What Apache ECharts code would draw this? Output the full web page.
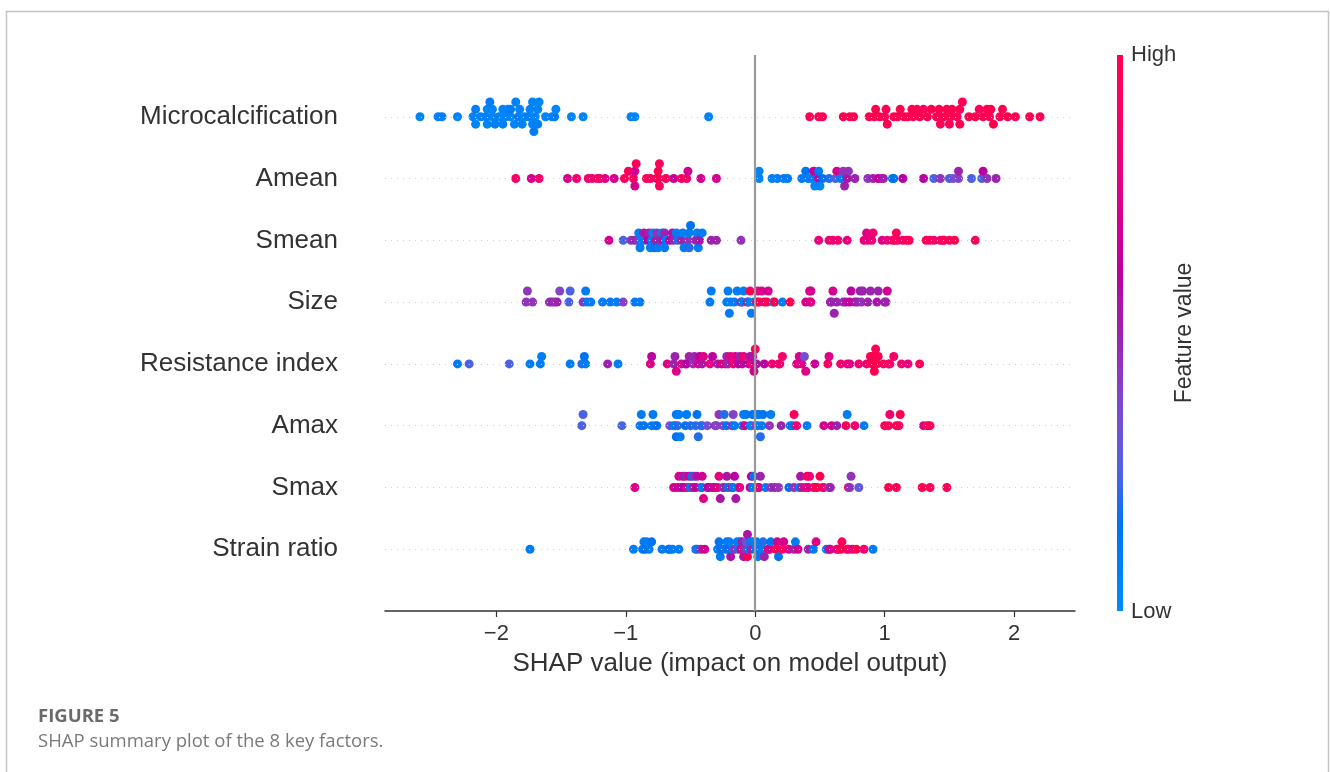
<!DOCTYPE html>
<html>
<head>
<meta charset="utf-8">
<script src="https://cdn.jsdelivr.net/npm/echarts@6/dist/echarts.min.js"></script>
<style>
html,body{margin:0;padding:0;background:#fff;}
#chart{width:1330px;height:772px;}
</style>
</head>
<body>
<div id="chart"></div>
<script>
// ---------- DATA (SHAP value, normalised feature value 0=low..1=high) ----------
const features = ['Microcalcification','Amean','Smean','Size','Resistance index','Amax','Smax','Strain ratio'];
const xTicks = [-2, -1, 0, 1, 2];
const colorbarLabels = ['High', 'Low'];
const colorbarTitle = 'Feature value';
const xAxisTitle = 'SHAP value (impact on model output)';
const captionTitle = 'FIGURE 5';
const captionText = 'SHAP summary plot of the 8 key factors.';

const microcalcification = [
 [-2.59,0.05],[-2.45,0.05],[-2.42,0.08],[-2.30,0.05],[-2.18,0.05],[-2.16,0.08],[-2.16,0.05],[-2.12,0.05],[-2.08,0.08],[-2.07,0.05],
 [-2.07,0.05],[-2.05,0.1],[-2.03,0.05],[-2.03,0.05],[-2.01,0.08],[-1.98,0.05],[-1.95,0.05],[-1.95,0.08],[-1.93,0.05],[-1.91,0.05],
 [-1.89,0.05],[-1.89,0.1],[-1.86,0.05],[-1.85,0.05],[-1.83,0.08],[-1.82,0.05],[-1.80,0.05],[-1.78,0.05],[-1.75,0.08],[-1.74,0.05],
 [-1.72,0.05],[-1.72,0.05],[-1.71,0.1],[-1.70,0.05],[-1.68,0.05],[-1.68,0.08],[-1.67,0.05],[-1.62,0.05],[-1.57,0.05],[-1.55,0.1],
 [-1.54,0.05],[-1.42,0.05],[-1.33,0.05],[-0.96,0.05],[-0.93,0.05],[-0.36,0.05],
 [0.42,0.97],[0.49,1],[0.52,0.97],[0.68,1],[0.73,0.97],[0.76,1],[0.88,1],[0.92,0.97],[0.93,1],[0.96,1],
 [1.00,0.97],[1.01,1],[1.02,1],[1.07,0.97],[1.10,1],[1.12,1],[1.15,0.97],[1.18,1],[1.21,1],[1.22,0.97],
 [1.25,1],[1.27,1],[1.30,0.97],[1.33,1],[1.36,1],[1.40,0.97],[1.42,1],[1.42,1],[1.43,0.97],[1.46,1],
 [1.48,1],[1.50,0.97],[1.51,1],[1.52,1],[1.56,0.97],[1.58,1],[1.58,1],[1.60,0.97],[1.65,1],[1.70,1],
 [1.73,0.97],[1.76,1],[1.79,1],[1.81,0.97],[1.82,1],[1.84,1],[1.89,0.97],[1.91,1],[1.95,1],[2.01,0.97],
 [2.12,1],[2.20,1]
];
const amean = [
 [-1.85,0.9],[-1.73,0.7],[-1.67,0.9],[-1.45,0.7],[-1.38,0.85],[-1.29,0.85],[-1.26,0.85],[-1.22,0.9],[-1.20,0.9],[-1.16,0.75],
 [-1.09,0.7],[-1.01,0.95],[-0.98,0.95],[-0.94,0.95],[-0.93,0.7],[-0.93,0.7],[-0.92,0.95],[-0.84,0.95],[-0.81,0.95],[-0.76,0.7],
 [-0.75,1.0],[-0.75,1.0],[-0.74,0.95],[-0.74,0.95],[-0.69,0.95],[-0.63,0.65],[-0.57,0.95],[-0.53,0.9],[-0.52,0.7],[-0.42,0.7],
 [-0.30,0.7],
 [0.03,0.05],[0.03,0.05],[0.13,0.08],[0.17,0.08],[0.22,0.1],[0.25,0.1],[0.36,0.1],[0.39,0.15],[0.41,0.1],[0.44,0.1],
 [0.45,0.65],[0.46,0.05],[0.49,0.65],[0.49,0.1],[0.50,0.05],[0.52,0.15],[0.57,0.2],[0.62,0.25],[0.63,0.7],[0.66,0.1],
 [0.68,0.45],[0.69,0.5],[0.71,0.55],[0.72,0.45],[0.77,0.5],[0.87,0.45],[0.91,0.5],[0.95,0.6],[0.98,0.7],[0.99,0.5],
 [1.06,0.1],[1.07,0.15],[1.14,0.6],[1.30,0.6],[1.38,0.25],[1.43,0.45],[1.50,0.25],[1.53,0.35],[1.57,0.4],[1.57,0.5],
 [1.67,0.25],[1.75,0.25],[1.76,0.6],[1.79,0.45],[1.86,0.5]
];
const smean = [
 [-1.13,0.7],[-1.02,0.25],[-0.96,0.45],[-0.93,0.5],[-0.91,0.45],[-0.90,0.1],[-0.89,0.1],[-0.88,0.05],[-0.86,0.1],[-0.86,0.55],
 [-0.83,0.6],[-0.82,0.5],[-0.81,0.1],[-0.80,0.1],[-0.79,0.05],[-0.78,0.15],[-0.77,0.5],[-0.76,0.45],[-0.75,0.1],[-0.74,0.5],
 [-0.72,0.1],[-0.71,0.55],[-0.70,0.5],[-0.70,0.1],[-0.69,0.1],[-0.66,0.6],[-0.64,0.55],[-0.63,0.5],[-0.61,0.1],[-0.60,0.2],
 [-0.57,0.5],[-0.56,0.1],[-0.55,0.1],[-0.52,0.45],[-0.51,0.1],[-0.51,0.2],[-0.50,0.15],[-0.46,0.5],[-0.45,0.1],[-0.44,0.1],
 [-0.43,0.55],[-0.41,0.1],[-0.34,0.5],[-0.30,0.5],[-0.11,0.45],
 [0.49,0.8],[0.57,0.85],[0.60,0.85],[0.64,0.85],[0.71,0.8],[0.84,0.8],[0.86,0.75],[0.87,0.8],[0.90,0.8],[0.91,0.85],
 [0.98,0.75],[1.02,0.8],[1.06,0.85],[1.08,1.0],[1.09,0.95],[1.10,0.95],[1.14,0.85],[1.17,0.95],[1.19,0.95],[1.32,0.95],
 [1.35,0.95],[1.38,0.9],[1.43,0.9],[1.45,1.0],[1.46,0.95],[1.50,0.95],[1.54,1.0],[1.70,0.95]
];
const size = [
 [-1.77,0.45],[-1.76,0.45],[-1.72,0.45],[-1.59,0.45],[-1.57,0.5],[-1.55,0.45],[-1.53,0.5],[-1.51,0.4],[-1.44,0.25],[-1.43,0.25],
 [-1.33,0.45],[-1.31,0.1],[-1.30,0.1],[-1.27,0.1],[-1.18,0.1],[-1.12,0.1],[-1.07,0.1],[-1.02,0.4],[-0.93,0.1],[-0.89,0.1],
 [-0.35,0.1],[-0.34,0.1],[-0.22,0.1],[-0.21,0.1],[-0.20,0.1],[-0.19,0.1],[-0.16,0.1],[-0.14,0.1],[-0.11,1.0],[-0.10,0.1],
 [-0.09,0.1],[-0.06,1.0],[-0.05,0.1],[-0.04,1.0],[-0.03,0.1],[-0.01,0.1],[0.01,0.9],[0.02,0.8],[0.03,1.0],[0.05,0.75],
 [0.07,0.8],[0.09,1.0],[0.10,0.7],[0.14,0.1],[0.15,1.0],[0.21,0.1],[0.27,1.0],[0.39,0.7],[0.42,0.7],[0.42,0.75],
 [0.43,0.75],[0.43,0.7],[0.58,0.5],[0.59,0.5],[0.60,0.7],[0.61,0.5],[0.63,0.5],[0.68,0.45],[0.70,0.55],[0.73,0.65],
 [0.74,0.6],[0.77,0.55],[0.79,0.5],[0.81,0.5],[0.82,0.45],[0.83,0.5],[0.87,0.5],[0.89,0.5],[0.94,0.55],[0.95,0.5],
 [1.00,0.5],[1.01,0.5],[1.02,0.7]
];
const resistanceIndex = [
 [-2.30,0.1],[-2.21,0.25],[-1.90,0.25],[-1.74,0.1],[-1.66,0.1],[-1.65,0.1],[-1.43,0.1],[-1.34,0.2],[-1.32,0.15],[-1.31,0.1],
 [-1.14,0.5],[-1.06,0.1],
 [-0.81,0.75],[-0.80,0.6],[-0.68,0.75],[-0.63,0.5],[-0.62,0.5],[-0.61,0.75],[-0.57,0.75],[-0.54,0.5],[-0.53,0.6],[-0.51,0.5],
 [-0.48,0.45],[-0.47,0.5],[-0.44,0.75],[-0.43,0.6],[-0.41,0.55],[-0.40,0.75],[-0.35,0.8],[-0.33,0.6],[-0.29,0.55],[-0.26,0.7],
 [-0.23,0.75],[-0.22,0.5],[-0.21,0.5],[-0.19,0.8],[-0.17,0.85],[-0.155,0.75],[-0.13,0.6],[-0.12,0.5],[-0.10,0.6],[-0.09,0.85],
 [-0.05,0.6],[-0.04,0.55],[-0.03,0.85],[-0.02,0.55],[-0.01,0.7],[0.00,1.0],[0.01,0.55],[0.07,0.6],[0.13,0.85],[0.18,0.75],
 [0.19,0.85],[0.21,0.9],[0.32,0.75],[0.33,0.75],[0.34,0.7],[0.36,0.75],[0.38,0.35],[0.39,0.75],[0.46,0.65],[0.56,0.95],
 [0.57,0.75],[0.66,0.85],[0.71,0.85],[0.73,0.75],[0.80,0.85],[0.86,0.85],[0.89,1.0],[0.90,1.0],[0.91,1.0],[0.92,1.0],
 [0.93,0.95],[0.94,1.0],[0.95,1.0],[0.99,0.95],[1.03,0.9],[1.04,0.9],[1.07,0.9],[1.13,0.9],[1.18,0.8],[1.27,0.95]
];
const amax = [
 [-1.34,0.25],[-1.33,0.25],[-1.03,0.25],[-0.89,0.1],[-0.88,0.1],[-0.86,0.15],[-0.80,0.1],[-0.79,0.1],[-0.77,0.1],[-0.76,0.15],
 [-0.66,0.35],[-0.63,0.1],[-0.62,0.1],[-0.61,0.1],[-0.61,0.15],[-0.60,0.2],[-0.59,0.1],[-0.58,0.1],[-0.54,0.15],[-0.53,0.1],
 [-0.50,0.2],[-0.46,0.2],[-0.45,0.15],[-0.44,0.2],[-0.42,0.25],[-0.41,0.2],[-0.37,0.35],[-0.31,0.45],[-0.30,0.4],[-0.28,0.45],
 [-0.25,0.4],[-0.24,0.2],[-0.22,0.15],[-0.18,0.45],[-0.17,0.4],[-0.16,0.1],[-0.10,0.1],[-0.09,0.1],[-0.08,0.7],[-0.07,0.1],
 [-0.04,0.1],[-0.03,0.05],[-0.02,0.15],[0.00,0.4],[0.01,0.1],[0.02,0.1],[0.03,0.1],[0.04,0.2],[0.05,0.1],[0.06,0.15],
 [0.11,0.45],[0.12,0.1],[0.20,0.5],[0.27,0.1],[0.29,0.15],[0.30,0.95],[0.32,0.85],[0.40,0.1],[0.53,0.7],[0.59,0.7],
 [0.63,0.5],[0.70,0.95],[0.71,0.1],[0.77,0.85],[0.84,0.1],[1.00,1.0],[1.03,0.95],[1.04,0.85],[1.09,1.0],[1.11,0.95],
 [1.12,1.0],[1.30,0.75],[1.33,1.0],[1.35,0.95]
];
const smax = [
 [-0.93,0.75],[-0.63,0.7],[-0.60,0.65],[-0.59,0.75],[-0.57,0.6],[-0.56,0.55],[-0.55,0.6],[-0.54,0.5],[-0.52,0.7],[-0.51,0.7],
 [-0.50,0.1],[-0.49,0.15],[-0.48,0.5],[-0.47,0.45],[-0.46,0.6],[-0.45,0.55],[-0.42,0.8],[-0.41,0.1],[-0.41,0.7],[-0.40,0.75],
 [-0.37,0.55],[-0.36,0.6],[-0.33,0.6],[-0.31,0.7],[-0.29,0.75],[-0.28,0.8],[-0.27,0.55],[-0.25,0.45],[-0.24,0.5],[-0.22,0.55],
 [-0.21,0.15],[-0.18,0.8],[-0.17,0.1],[-0.16,0.6],[-0.15,0.55],[-0.13,0.1],[-0.12,0.75],[-0.04,0.65],[-0.03,0.6],[-0.02,0.1],
 [-0.01,0.15],[0.02,0.85],[0.03,0.8],[0.04,0.5],[0.08,0.1],[0.12,0.45],[0.15,0.5],[0.18,0.45],[0.26,0.15],[0.30,0.45],
 [0.34,0.1],[0.35,0.55],[0.36,0.5],[0.39,0.85],[0.40,0.95],[0.41,0.75],[0.42,0.85],[0.45,0.85],[0.46,0.9],[0.48,1.0],
 [0.50,1.0],[0.52,0.95],[0.53,0.9],[0.57,0.35],[0.58,0.5],[0.72,0.85],[0.73,0.45],[0.74,0.45],[0.80,0.3],[1.03,1.0],
 [1.09,0.95],[1.29,1.0],[1.35,0.95],[1.48,0.95]
];
const strainRatio = [
 [-1.74,0.1],[-0.94,0.1],[-0.87,0.1],[-0.86,0.1],[-0.85,0.15],[-0.84,0.1],[-0.82,0.1],[-0.80,0.15],[-0.72,0.1],[-0.67,0.1],
 [-0.66,0.15],[-0.64,0.1],[-0.59,0.1],[-0.46,0.2],[-0.45,0.1],[-0.42,0.5],[-0.39,0.7],[-0.29,0.1],[-0.28,0.15],[-0.27,0.1],
 [-0.26,0.15],[-0.23,0.2],[-0.22,0.1],[-0.21,0.15],[-0.20,0.1],[-0.19,0.55],[-0.17,0.1],[-0.16,0.45],[-0.14,0.1],[-0.13,0.2],
 [-0.12,0.1],[-0.11,0.75],[-0.10,0.5],[-0.09,0.55],[-0.08,0.45],[-0.07,0.35],[-0.06,1.0],[-0.06,0.55],[-0.05,0.1],[-0.04,0.2],
 [-0.03,0.5],[-0.02,0.1],[0.00,0.15],[0.01,0.1],[0.02,0.1],[0.04,0.15],[0.05,0.1],[0.06,0.2],[0.07,0.5],[0.10,0.75],
 [0.11,0.7],[0.12,0.15],[0.16,1.0],[0.17,0.7],[0.18,0.15],[0.21,0.95],[0.22,0.7],[0.26,0.75],[0.30,0.5],[0.31,0.1],
 [0.33,0.7],[0.41,0.5],[0.45,0.1],[0.47,0.75],[0.55,0.1],[0.57,0.55],[0.58,0.7],[0.63,0.85],[0.64,0.75],[0.66,1.0],
 [0.67,0.95],[0.71,1.0],[0.72,0.95],[0.75,0.75],[0.78,1.0],[0.84,0.85],[0.91,0.1]
];
const featureData = [microcalcification, amean, smean, size, resistanceIndex, amax, smax, strainRatio];

// ---------- SHAP red_blue colormap (LCH interpolation) ----------
function lab2hex(L, a, b) {
  const fy = (L + 16) / 116, fx = fy + a / 500, fz = fy - b / 200;
  const finv = t => t > 0.206893 ? t * t * t : (t - 16 / 116) / 7.787;
  const X = 0.95047 * finv(fx), Y = finv(fy), Z = 1.08883 * finv(fz);
  let r = 3.2404542 * X - 1.5371385 * Y - 0.4985314 * Z;
  let g = -0.9692660 * X + 1.8760108 * Y + 0.0415560 * Z;
  let bl = 0.0556434 * X - 0.2040259 * Y + 1.0572252 * Z;
  const gam = c => { c = c > 0.0031308 ? 1.055 * Math.pow(c, 1 / 2.4) - 0.055 : 12.92 * c; return Math.round(Math.max(0, Math.min(1, c)) * 255); };
  return '#' + [gam(r), gam(g), gam(bl)].map(v => v.toString(16).padStart(2, '0')).join('');
}
function redBlue(nsteps) {
  const blue = [54, 70, 4.6588], red = [54, 90, 0.35470565 + 2 * Math.PI], lMid = 40;
  const half = nsteps / 2, out = [];
  for (let i = 0; i < nsteps; i++) {
    const t = i / (nsteps - 1);
    let l;
    if (i < half) l = blue[0] + (lMid - blue[0]) * (i / (half - 1));
    else l = lMid + (red[0] - lMid) * ((i - half) / (half - 1));
    const c = blue[1] + (red[1] - blue[1]) * t;
    const h = blue[2] + (red[2] - blue[2]) * t;
    out.push(lab2hex(l, c * Math.cos(h), c * Math.sin(h)));
  }
  return out;
}
const cmap = redBlue(100);

// ---------- beeswarm layout (SHAP's binning) ----------
function swarmOffsets(xs) {
  const n = xs.length, nbins = 100;
  const mn = Math.min(...xs), mx = Math.max(...xs);
  const quant = xs.map(v => Math.round(nbins * (v - mn) / (mx - mn + 1e-8)));
  const inds = xs.map((_, i) => i).sort((a, b) => quant[a] - quant[b] || a - b);
  let layer = 0, last = -1;
  const ys = new Array(n).fill(0);
  for (const i of inds) {
    if (quant[i] !== last) layer = 0;
    ys[i] = Math.ceil(layer / 2) * ((layer % 2) * 2 - 1);
    layer++; last = quant[i];
  }
  const m = Math.max(...ys.map(y => y + 1));
  return ys.map(y => y * 0.9 * 0.4 / m);
}

const nF = features.length;
const points = [];
featureData.forEach((arr, k) => {
  const pos = nF - 1 - k;
  const offs = swarmOffsets(arr.map(p => p[0]));
  arr.forEach((p, i) => points.push([p[0], pos + offs[i], p[1]]));
});

const chart = echarts.init(document.getElementById('chart'), null, { renderer: 'canvas' });
const FONT = '"Liberation Sans", Arial, sans-serif';
const gradStops = [];
for (let i = 0; i <= 20; i++) gradStops.push({ offset: i / 20, color: cmap[Math.round((1 - i / 20) * 99)] });

const option = {
  animation: false,
  backgroundColor: '#ffffff',
  grid: { left: 385, right: 255, top: 55, bottom: 161, containLabel: false },
  xAxis: {
    type: 'value', min: -2.86, max: 2.47,
    name: xAxisTitle, nameLocation: 'middle', nameGap: 40,
    nameTextStyle: { fontFamily: FONT, fontSize: 26, color: '#333333' },
    axisLine: { show: true, onZero: false, lineStyle: { color: '#333333', width: 1.5 } },
    axisTick: { show: true, length: 6, lineStyle: { color: '#333333', width: 1.2 }, customValues: xTicks },
    axisLabel: { fontFamily: FONT, fontSize: 22, color: '#333333', margin: 12, customValues: xTicks,
      formatter: v => v < 0 ? '\u2212' + Math.abs(v) : String(v) },
    splitLine: { show: false }
  },
  yAxis: {
    type: 'value', min: -1, max: nF, interval: 1,
    axisLine: { show: false }, axisTick: { show: false }, splitLine: { show: false },
    axisLabel: { fontFamily: FONT, fontSize: 26, color: '#333333', margin: 47,
      formatter: v => (v >= 0 && v < nF && Number.isInteger(v)) ? features[nF - 1 - v] : '' }
  },
  visualMap: {
    show: false, type: 'continuous', seriesIndex: [1], dimension: 2, min: 0, max: 1,
    inRange: { color: cmap }
  },
  series: [
    {
      type: 'scatter', data: [], z: 1, silent: true,
      markLine: {
        silent: true, symbol: ['none', 'none'], label: { show: false }, animation: false,
        data: features.map((f, i) => ({ yAxis: i, lineStyle: { color: '#cccccc', width: 1, type: [1, 5] } }))
          .concat([{ xAxis: 0, lineStyle: { color: '#999999', width: 2.2, type: 'solid' } }])
      }
    },
    {
      type: 'scatter', data: points, z: 3, symbolSize: 9, symbol: 'circle',
      itemStyle: { opacity: 1, borderWidth: 0 }
    }
  ],
  graphic: [
    { type: 'rect', shape: { x: 6.5, y: 11.5, width: 1322, height: 800 }, style: { fill: 'none', stroke: '#c4c4c4', lineWidth: 1.5 }, z: -10, silent: true },
    { type: 'rect', shape: { x: 1117, y: 55, width: 6, height: 556 },
      style: { fill: new echarts.graphic.LinearGradient(0, 0, 0, 1, gradStops) }, silent: true },
    { type: 'text', x: 1131, y: 55, style: { text: colorbarLabels[0], font: '22px ' + FONT, fill: '#333333', textAlign: 'left', textVerticalAlign: 'middle' } },
    { type: 'text', x: 1131, y: 612, style: { text: colorbarLabels[1], font: '22px ' + FONT, fill: '#333333', textAlign: 'left', textVerticalAlign: 'middle' } },
    { type: 'text', x: 1185, y: 333, rotation: Math.PI / 2, style: { text: colorbarTitle, font: '23px ' + FONT, fill: '#333333', textAlign: 'center', textVerticalAlign: 'middle' } },
    { type: 'text', x: 38, y: 717, style: { text: captionTitle, font: 'bold 18.5px "Open Sans", sans-serif', fill: '#6b6b6b', textAlign: 'left', textVerticalAlign: 'middle' } },
    { type: 'text', x: 38, y: 742, style: { text: captionText, font: '18.5px "Open Sans", sans-serif', fill: '#7a7a7a', textAlign: 'left', textVerticalAlign: 'middle' } }
  ]
};
chart.setOption(option);
</script>
</body>
</html>
